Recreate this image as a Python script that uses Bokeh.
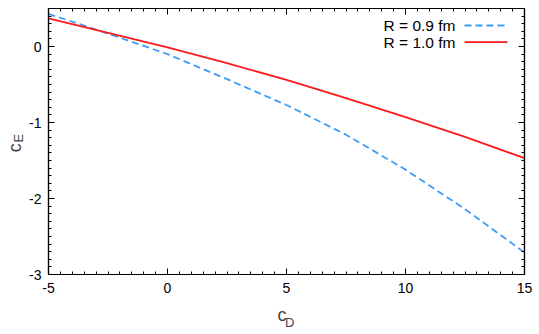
from bokeh.plotting import figure
from bokeh.models import (Range1d, LinearAxis, FixedTicker, Label, Arrow)
from bokeh.embed import file_html
from bokeh.resources import INLINE

# ---- data ----
c_D = [-5, -2.5, 0, 2.5, 5, 7.5, 10, 12.5, 15]
cE_R09 = [0.43, 0.17, -0.10, -0.43, -0.77, -1.16, -1.62, -2.14, -2.71]
cE_R10 = [0.37, 0.18, -0.013, -0.22, -0.44, -0.68, -0.93, -1.19, -1.47]
series_labels = ["R = 0.9 fm", "R = 1.0 fm"]
x_ticks = [-5, 0, 5, 10, 15]
y_ticks = [-3, -2, -1, 0]

FONT = "Liberation Sans"
BLUE = "#3d9cf5"
RED = "#ff1a1a"
EN = "\u2002"
THIN = "\u2009"

p = figure(width=539, height=334, output_backend="svg", toolbar_location=None,
           x_range=Range1d(-5, 15), y_range=Range1d(-3, 0.5),
           min_border_left=48, min_border_right=15, min_border_top=8,
           min_border_bottom=60, x_axis_location=None, y_axis_location=None)
p.grid.visible = False
p.outline_line_color = "black"
p.outline_line_width = 1.2
p.background_fill_color = "white"
p.border_fill_color = "white"

def style_axis(ax, ticks, minor, show_labels, standoff):
    ax.ticker = FixedTicker(ticks=ticks, minor_ticks=minor)
    ax.axis_line_color = "black"
    ax.axis_line_width = 1.2
    ax.major_tick_in = 6
    ax.major_tick_out = 0
    ax.minor_tick_in = 3
    ax.minor_tick_out = 0
    ax.major_tick_line_color = "black"
    ax.minor_tick_line_color = "black"
    ax.major_tick_line_width = 1
    ax.minor_tick_line_width = 1
    ax.major_label_text_font = FONT
    ax.major_label_overrides = {t: str(t) for t in ticks}
    if show_labels:
        ax.major_label_text_font_size = "14px"
        ax.major_label_standoff = standoff
        ax.major_label_text_color = "black"
    else:
        ax.major_label_text_font_size = "0px"
        ax.major_label_standoff = 0
        ax.major_label_text_color = None

def label_only_axis(text, size, standoff):
    ax = LinearAxis(ticker=FixedTicker(ticks=[]), axis_line_color=None,
                    major_tick_line_color=None, minor_tick_line_color=None,
                    major_tick_out=0, minor_tick_out=0, major_tick_in=0, minor_tick_in=0,
                    major_label_standoff=0, major_label_text_font_size="0px")
    ax.axis_label = text
    ax.axis_label_text_font = FONT
    ax.axis_label_text_font_size = size
    ax.axis_label_text_font_style = "normal"
    ax.axis_label_standoff = standoff
    return ax

x_minor = [x_ticks[0] + 0.5 * i for i in range(int((x_ticks[-1] - x_ticks[0]) / 0.5) + 1)]
y_minor = [round(y_ticks[0] + 0.1 * i, 2) for i in range(36)]

xb = LinearAxis(); style_axis(xb, x_ticks, x_minor, True, 8)
xb.axis_label = "c" + EN
xb.axis_label_text_font = FONT
xb.axis_label_text_font_size = "18px"
xb.axis_label_text_font_style = "normal"
xb.axis_label_standoff = 9
p.add_layout(xb, "below")
p.add_layout(label_only_axis(EN + "D", "13px", -13), "below")

yl = LinearAxis(); style_axis(yl, y_ticks, y_minor, True, 7)
yl.axis_label = EN + "E"
yl.axis_label_text_font = FONT
yl.axis_label_text_font_size = "13px"
yl.axis_label_text_font_style = "normal"
yl.axis_label_standoff = 0
p.add_layout(yl, "left")
p.add_layout(label_only_axis("c" + EN + THIN, "18px", -16), "left")

xa = LinearAxis(); style_axis(xa, x_ticks, x_minor, False, 0); p.add_layout(xa, "above")
yr = LinearAxis(); style_axis(yr, y_ticks, y_minor, False, 0); p.add_layout(yr, "right")

# ---- curves ----
p.line(c_D, cE_R09, line_color=BLUE, line_width=1.8, line_dash="7 4")
p.line(c_D, cE_R10, line_color=RED, line_width=1.8)

# ---- legend (text right-aligned, sample on the right) ----
for i, (lab, col, dash) in enumerate(zip(series_labels, [BLUE, RED], ["7 4", "solid"])):
    yy = 25 + i * 16.7
    p.add_layout(Label(x=455, y=yy, x_units="canvas", y_units="canvas", text=lab,
                       text_font=FONT, text_font_size="15.5px", text_align="right",
                       text_baseline="middle", text_color="black"))
    p.add_layout(Arrow(end=None, start=None, x_start=464, y_start=yy, x_end=507, y_end=yy,
                       start_units="canvas", end_units="canvas",
                       line_color=col, line_width=1.8, line_dash=dash))

open("out.html", "w").write(file_html(p, INLINE))
